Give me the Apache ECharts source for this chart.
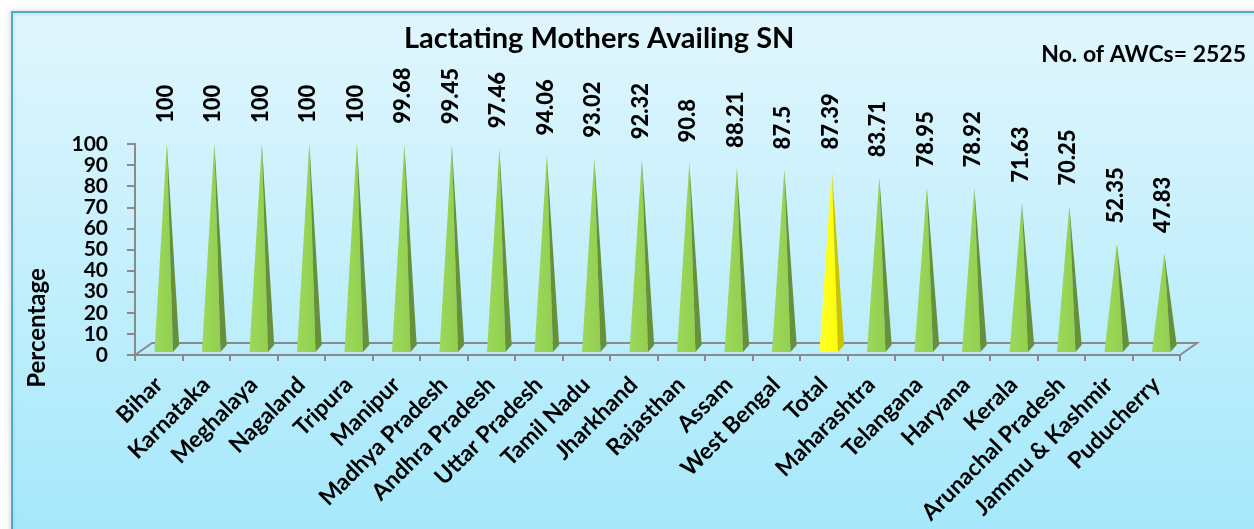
<!DOCTYPE html>
<html>
<head>
<meta charset="utf-8">
<script src="https://cdn.jsdelivr.net/npm/echarts@6/dist/echarts.min.js"></script>
<style>
  html, body { margin: 0; padding: 0; background: #fff; }
  #chart { width: 1254px; height: 529px; }
</style>
</head>
<body>
<div id="chart"></div>
<script>
// data
var states = ['Bihar', 'Karnataka', 'Meghalaya', 'Nagaland', 'Tripura', 'Manipur', 'Madhya Pradesh',
  'Andhra Pradesh', 'Uttar Pradesh', 'Tamil Nadu', 'Jharkhand', 'Rajasthan', 'Assam', 'West Bengal',
  'Total', 'Maharashtra', 'Telangana', 'Haryana', 'Kerala', 'Arunachal Pradesh', 'Jammu & Kashmir', 'Puducherry'];
var percent = [100, 100, 100, 100, 100, 99.68, 99.45, 97.46, 94.06, 93.02, 92.32, 90.8, 88.21, 87.5,
  87.39, 83.71, 78.95, 78.92, 71.63, 70.25, 52.35, 47.83];
var valueLabels = ['100', '100', '100', '100', '100', '99.68', '99.45', '97.46', '94.06', '93.02', '92.32',
  '90.8', '88.21', '87.5', '87.39', '83.71', '78.95', '78.92', '71.63', '70.25', '52.35', '47.83'];
var yTicks = [0, 10, 20, 30, 40, 50, 60, 70, 80, 90, 100];
var highlight = 'Total';

var FONT = 'Lato';
var gray = '#8a8a8a';
var APEX_SHIFT = 0.17; // cones sit a bit right of the category centre (3D depth)

var chart = echarts.init(document.getElementById('chart'));

var cones = states.map(function (s, i) { return [i, percent[i]]; });

function drawCone(params, api) {
  var i = api.value(0);
  var v = api.value(1);
  var bw = api.size([1, 0])[0];
  var base = api.coord([i, 0]);
  var tip = api.coord([i, v]);
  var ax = base[0] + bw * APEX_SHIFT;
  var ay = tip[1] - 1;
  var by = base[1] - 3;
  var isTotal = states[i] === highlight;
  var front = isTotal ? '#ffff00' : '#92d050';
  var side = isTotal ? '#c9c400' : '#66913a';
  return {
    type: 'group',
    children: [
      {
        type: 'polygon',
        shape: { points: [[ax - bw * 0.26, by], [ax + bw * 0.13, by], [ax, ay]] },
        style: {
          fill: new echarts.graphic.LinearGradient(0, 0, 1, 0, [
            { offset: 0, color: isTotal ? '#ffff33' : '#9cd85a' },
            { offset: 1, color: front }
          ])
        }
      },
      {
        type: 'polygon',
        shape: { points: [[ax + bw * 0.13, by], [ax + bw * 0.26, by - 7], [ax, ay]] },
        style: { fill: side }
      }
    ]
  };
}

function drawFloor(params, api) {
  var bw = api.size([1, 0])[0];
  var first = api.coord([0, 0]);
  var last = api.coord([states.length - 1, 0]);
  var left = first[0] - bw / 2;
  var right = last[0] + bw / 2;
  var y0 = first[1];
  var dx = 17, dy = 12;
  return {
    type: 'polyline',
    shape: { points: [[left, y0], [left + dx, y0 - dy], [right + dx, y0 - dy], [right, y0]] },
    style: { stroke: gray, lineWidth: 2, fill: null }
  };
}

var frame = [
  {
    id: 'bg',
    type: 'rect',
    z: -10,
    shape: { x: 12, y: 12, width: 1262, height: 540 },
    style: {
      fill: new echarts.graphic.LinearGradient(0, 0, 0, 1, [
        { offset: 0, color: '#e1f6fd' },
        { offset: 1, color: '#a3e8fb' }
      ]),
      stroke: '#4bacc6',
      lineWidth: 2,
      shadowColor: 'rgba(0,0,0,0.25)',
      shadowBlur: 4,
      shadowOffsetX: -1
    }
  },
  {
    id: 'yname',
    type: 'text',
    x: 37,
    y: 328,
    rotation: Math.PI / 2,
    style: {
      text: 'Percentage',
      x: 0, y: 0,
      align: 'center',
      verticalAlign: 'middle',
      fill: '#000',
      fontFamily: FONT,
      fontWeight: 'bold',
      fontSize: 24
    }
  }
];

var option = {
  backgroundColor: '#fff',
  animation: false,
  graphic: { elements: frame },
  title: [
    {
      text: 'Lactating Mothers Availing SN',
      left: 399,
      top: 19,
      textStyle: { fontFamily: FONT, fontWeight: 'bold', fontSize: 29, color: '#000' }
    },
    {
      text: 'No. of AWCs= 2525',
      right: 3,
      top: 38,
      textStyle: { fontFamily: FONT, fontWeight: 'bold', fontSize: 23, color: '#000' }
    }
  ],
  grid: { left: 135, right: 74, top: 144, bottom: 174, containLabel: false, outerBoundsMode: 'none' },
  xAxis: {
    type: 'category',
    data: states,
    axisLine: { show: true, lineStyle: { color: gray, width: 2 } },
    axisTick: { show: true, length: 6, lineStyle: { color: gray, width: 2 } },
    axisLabel: {
      interval: 0,
      rotate: 45,
      margin: 26,
      color: '#000',
      fontFamily: FONT,
      fontWeight: 'bold',
      fontSize: 23
    },
    splitLine: { show: false }
  },
  yAxis: {
    type: 'value',
    min: yTicks[0],
    max: yTicks[yTicks.length - 1],
    interval: 10,
    axisLine: { show: true, lineStyle: { color: gray, width: 2 } },
    axisTick: { show: true, length: 8, lineStyle: { color: gray, width: 2 } },
    axisLabel: {
      margin: 27,
      color: '#000',
      fontFamily: FONT,
      fontWeight: 'bold',
      fontSize: 21,
      lineHeight: 14,
      showMinLabel: true,
      showMaxLabel: true,
      hideOverlap: false
    },
    splitLine: { show: false }
  },
  series: [
    {
      type: 'custom',
      name: 'floor',
      z: 1,
      data: [[0, 0]],
      renderItem: drawFloor,
      silent: true
    },
    {
      type: 'custom',
      name: 'Lactating Mothers',
      z: 3,
      data: cones,
      encode: { x: 0, y: 1 },
      renderItem: drawCone
    }
  ]
};

chart.setOption(option);

// value labels above each apex, placed through the chart's own scales
var p0 = chart.convertToPixel({ gridIndex: 0 }, [0, 0]);
var p1 = chart.convertToPixel({ gridIndex: 0 }, [1, 0]);
var band = p1[0] - p0[0];
var labels = states.map(function (s, i) {
  var p = chart.convertToPixel({ gridIndex: 0 }, [i, percent[i]]);
  return {
    id: 'val' + i,
    type: 'text',
    z: 10,
    x: p[0] + band * APEX_SHIFT - 1,
    y: p[1] - 21,
    rotation: Math.PI / 2,
    style: {
      text: valueLabels[i],
      x: 0, y: 0,
      align: 'left',
      verticalAlign: 'middle',
      fill: '#000',
      fontFamily: FONT,
      fontWeight: 900,
      fontSize: 22
    }
  };
});
chart.setOption({ graphic: { elements: frame.concat(labels) } });
</script>
</body>
</html>
